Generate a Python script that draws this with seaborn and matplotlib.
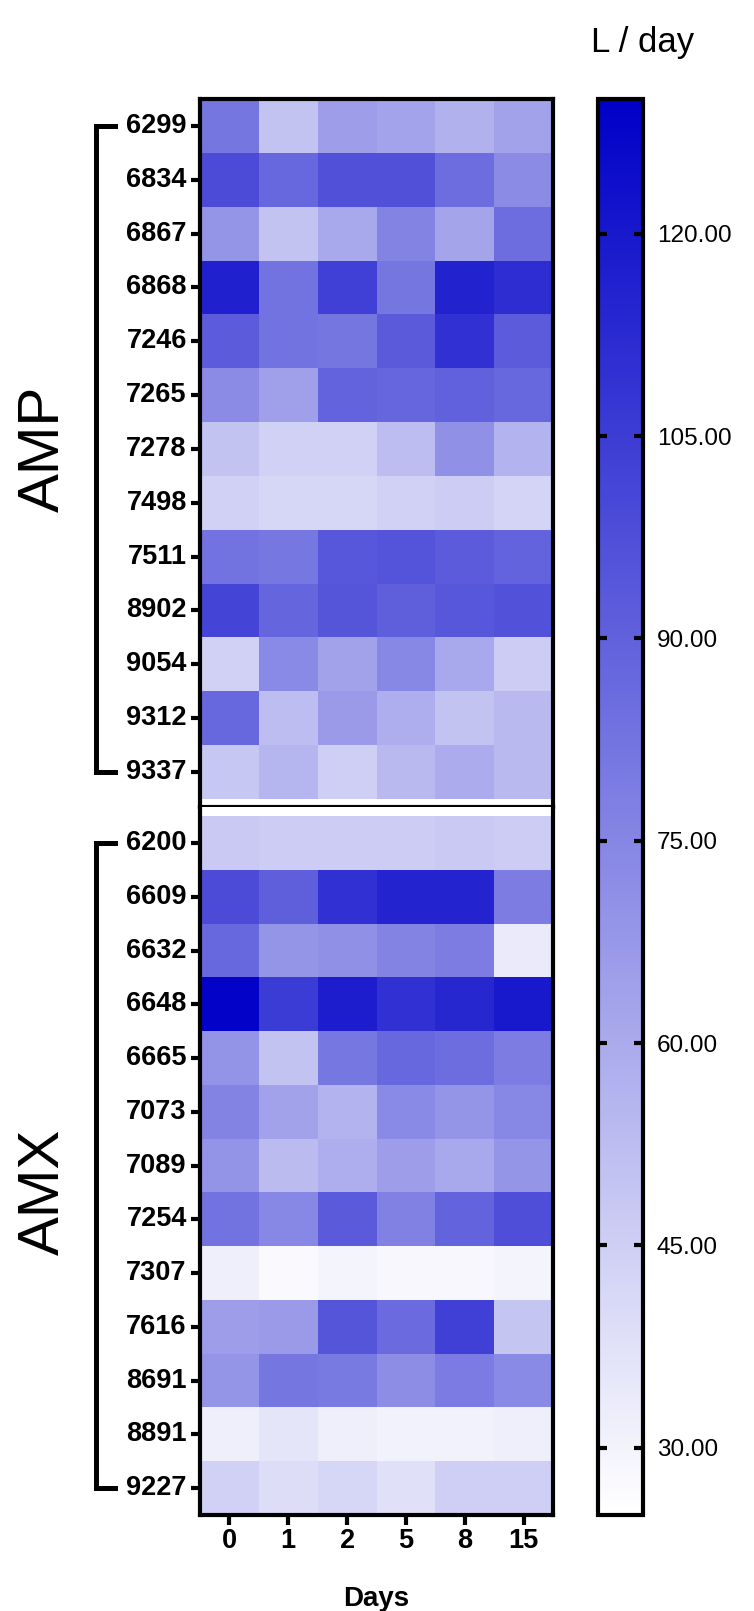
import numpy as np
import pandas as pd
import matplotlib
matplotlib.use("Agg")
import matplotlib.pyplot as plt
from matplotlib.colors import LinearSegmentedColormap
from matplotlib.lines import Line2D
import seaborn as sns

# ---------------- data ----------------
days = ["0", "1", "2", "5", "8", "15"]

amp_ids = ["6299", "6834", "6867", "6868", "7246", "7265", "7278",
           "7498", "7511", "8902", "9054", "9312", "9337"]
amp_values = [
    [81.5, 50.0, 65.5, 63.0, 57.0, 63.5],
    [99.0, 87.0, 97.0, 97.0, 85.0, 72.7],
    [68.7, 50.0, 61.0, 76.0, 62.5, 85.0],
    [116.5, 83.0, 103.5, 81.5, 116.0, 111.5],
    [92.4, 83.0, 81.5, 93.0, 109.6, 92.4],
    [72.7, 64.6, 89.0, 88.0, 90.0, 87.0],
    [50.0, 44.0, 44.0, 52.3, 70.7, 56.4],
    [44.0, 42.0, 42.0, 44.0, 46.0, 43.0],
    [83.0, 81.0, 94.0, 95.3, 92.4, 89.0],
    [102.0, 88.5, 95.0, 91.0, 94.0, 96.5],
    [44.0, 73.5, 63.5, 74.5, 61.0, 46.0],
    [87.0, 52.3, 66.5, 58.5, 50.0, 54.0],
    [48.0, 55.5, 45.0, 54.0, 59.5, 54.0],
]

amx_ids = ["6200", "6609", "6632", "6648", "6665", "7073", "7089",
           "7254", "7307", "7616", "8691", "8891", "9227"]
amx_values = [
    [47.5, 46.0, 46.0, 46.0, 47.5, 46.0],
    [99.0, 91.0, 109.6, 115.6, 115.6, 79.0],
    [87.0, 68.7, 70.7, 76.0, 79.0, 33.8],
    [129.0, 105.5, 117.7, 109.6, 113.6, 119.8],
    [69.5, 50.0, 81.0, 87.0, 85.0, 79.0],
    [76.0, 63.5, 56.4, 73.5, 68.7, 74.5],
    [69.5, 53.0, 58.5, 65.5, 61.0, 68.7],
    [83.0, 74.5, 93.0, 76.8, 89.0, 98.0],
    [31.8, 27.7, 29.8, 28.6, 28.6, 29.8],
    [65.5, 66.5, 95.0, 85.8, 103.5, 49.0],
    [68.7, 81.5, 80.0, 72.0, 79.5, 73.5],
    [31.8, 35.9, 31.8, 30.6, 30.6, 31.8],
    [44.0, 39.2, 42.0, 38.0, 45.0, 45.0],
]

cbar_ticks = [30, 45, 60, 75, 90, 105, 120]
vmin, vmax = 25.0, 130.0

# ---------------- style ----------------
sns.set_style("ticks")
plt.rcParams["font.family"] = ["Liberation Sans", "DejaVu Sans"]
plt.rcParams.update({
    "text.color": "black",
    "axes.labelcolor": "black",
    "xtick.color": "black",
    "ytick.color": "black",
    "axes.edgecolor": "black",
})

W, H = 754, 1611
fig = plt.figure(figsize=(W / 100, H / 100), dpi=100)


def rect(l, t, r, b):
    return [l / W, 1 - b / H, (r - l) / W, (b - t) / H]


ax1 = fig.add_axes(rect(200, 99, 553, 807))
ax2 = fig.add_axes(rect(200, 807, 553, 1515))
cax = fig.add_axes(rect(598, 99, 643, 1515))

cmap = LinearSegmentedColormap.from_list("wb", ["#FFFFFF", "#0000C8"])

df_amp = pd.DataFrame(amp_values, index=amp_ids, columns=days)
df_amx = pd.DataFrame(amx_values, index=amx_ids, columns=days)

sns.heatmap(df_amp, ax=ax1, cmap=cmap, vmin=vmin, vmax=vmax, cbar=False)
sns.heatmap(df_amx, ax=ax2, cmap=cmap, vmin=vmin, vmax=vmax, cbar=True,
            cbar_ax=cax, cbar_kws={"ticks": cbar_ticks})

ax1.set_ylim(13 + 0.15, 0)
ax2.set_ylim(13, -0.17)

border_lw = 3.0
for ax in (ax1, ax2):
    for s in ax.spines.values():
        s.set_visible(True)
        s.set_color("black")
        s.set_linewidth(border_lw)
        s.set_capstyle("projecting")
ax1.spines["bottom"].set_linewidth(3.0)
ax2.spines["top"].set_visible(False)

label_font = dict(fontsize=19.5, fontweight="bold", color="black")

for ax, ids in ((ax1, amp_ids), (ax2, amx_ids)):
    ax.set_yticks(np.arange(len(ids)) + 0.5)
    ax.set_yticklabels(ids, rotation=0, **label_font)
    ax.tick_params(axis="y", direction="out", length=6.5, width=3,
                   pad=3, left=True, right=False, colors="black")
    ax.set_ylabel("")
    ax.set_xlabel("")

ax1.set_xticks([])
ax2.set_xticks(np.arange(len(days)) + 0.5)
ax2.set_xticklabels(days, rotation=0, **label_font)
ax2.tick_params(axis="x", direction="out", length=7.5, width=3, pad=2,
                bottom=True, top=False, colors="black")

# colorbar styling
cbar = ax2.collections[0].colorbar
cbar.outline.set_visible(True)
cbar.outline.set_linewidth(3)
cbar.outline.set_edgecolor("black")
cbar.set_ticks(cbar_ticks)
cbar.set_ticklabels([f"{t:.2f}" for t in cbar_ticks])
cax.tick_params(axis="y", which="both", length=0, labelleft=False,
                labelright=True, labelsize=17.5, pad=10, colors="black")
# inward tick marks on both edges of the colorbar, placed at the tick values
ytr = cax.get_yaxis_transform()
for t in cbar_ticks:
    for x0, x1 in ((0.0, 0.19), (0.81, 1.0)):
        cax.add_line(Line2D([x0, x1], [t, t], transform=ytr, color="black",
                            lw=3, solid_capstyle="butt", clip_on=False,
                            zorder=5))

# "L / day" title
fig.text(643 / W, 1 - 52 / H, "L / day", ha="center", va="baseline",
         fontsize=25, color="black")

# "Days" label
fig.text(376.5 / W, 1 - 1599 / H, "Days", ha="center", va="center",
         fontsize=20, fontweight="bold", color="black")

# group brackets and labels
bx, stub = 96, 115
for ax, n, name, ty in ((ax1, len(amp_ids), "AMP", None),
                        (ax2, len(amx_ids), "AMX", 1192)):
    y_top = ax.transData.transform((0, 0.5))[1]
    y_bot = ax.transData.transform((0, n - 0.5))[1]
    yt = y_top / H
    yb = y_bot / H
    xs = [stub / W, bx / W, bx / W, stub / W]
    ys = [yt, yt, yb, yb]
    fig.add_artist(Line2D(xs, ys, transform=fig.transFigure, color="black",
                          lw=3.6, solid_capstyle="projecting",
                          solid_joinstyle="miter"))
    yc = (yt + yb) / 2 if ty is None else 1 - ty / H
    fig.text(44 / W, yc, name, rotation=90, ha="center", va="center",
             fontsize=42, color="black")

fig.savefig("out.png", dpi=100)
